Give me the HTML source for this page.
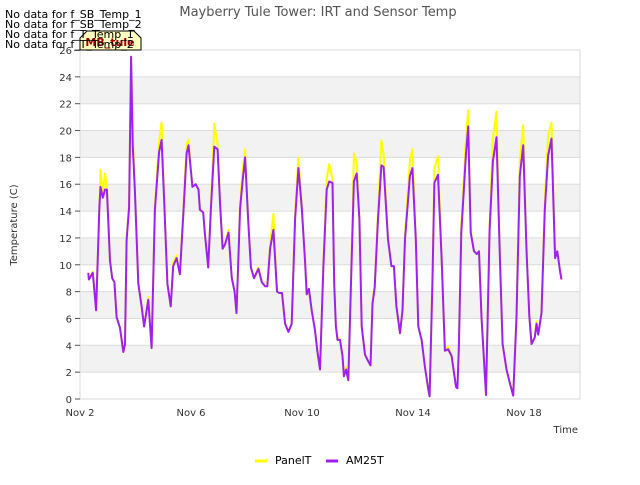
<!DOCTYPE html>
<html><head><meta charset="utf-8"><style>
body{margin:0;background:#fff;}
svg text{font-family:"DejaVu Sans","Liberation Sans",sans-serif;}
</style></head><body>
<svg id="chart" width="640" height="480" xmlns="http://www.w3.org/2000/svg">
<g id="bands"></g>
<g id="grid"></g>
<rect x="80" y="50" width="500" height="349" fill="none" stroke="#d8d8d8"/>
<g id="yaxis"></g>
<g id="xaxis"></g>
<g id="series"></g>
<text x="318" y="16" text-anchor="middle" font-size="13" fill="#555">Mayberry Tule Tower: IRT and Sensor Temp</text>
<text transform="translate(17,225) rotate(-90)" text-anchor="middle" font-size="10" fill="#333">Temperature (C)</text>
<text x="578" y="433" text-anchor="end" font-size="10" fill="#333">Time</text>
<g>
<path d="M80,38 L87,31 L134,31 L141,38 L141,50 L80,50 Z" fill="#ffffc0" stroke="#000" stroke-width="1"/>
<text x="110" y="46" text-anchor="middle" font-size="11" font-weight="bold" fill="#a00000">MB_tule</text>
</g>
<g font-size="11" fill="#000">
<text x="5" y="18">No data for f_SB_Temp_1</text>
<text x="5" y="28">No data for f_SB_Temp_2</text>
<text x="5" y="38">No data for f_T_Temp_1</text>
<text x="5" y="48">No data for f_T_Temp_2</text>
</g>
<g>
<g><line x1="255" y1="461" x2="267" y2="461" stroke="#ffff00" stroke-width="3"/><text x="275" y="464" font-size="11" fill="#000">PanelT</text></g>
<g><line x1="326" y1="461" x2="338" y2="461" stroke="#a020f0" stroke-width="3"/><text x="346" y="464" font-size="11" fill="#000">AM25T</text></g>
</g>
</svg>
<script>
const days=[0.30,0.32,0.46,0.58,0.70,0.74,0.82,0.90,0.97,1.08,1.16,1.24,1.32,1.44,1.56,1.62,1.68,1.77,1.84,1.90,1.98,2.10,2.22,2.31,2.46,2.58,2.70,2.85,2.94,3.03,3.15,3.27,3.36,3.48,3.60,3.72,3.84,3.91,4.05,4.17,4.27,4.32,4.44,4.50,4.62,4.72,4.84,4.96,5.05,5.14,5.22,5.35,5.47,5.57,5.64,5.77,5.85,5.95,6.07,6.16,6.27,6.43,6.55,6.67,6.75,6.85,6.97,7.10,7.19,7.28,7.39,7.51,7.63,7.75,7.87,7.99,8.11,8.17,8.25,8.35,8.47,8.55,8.65,8.77,8.89,8.98,9.10,9.16,9.22,9.28,9.37,9.46,9.51,9.59,9.67,9.79,9.87,9.97,10.07,10.15,10.27,10.39,10.47,10.54,10.62,10.74,10.86,10.94,11.10,11.22,11.31,11.40,11.53,11.62,11.71,11.89,11.98,12.10,12.19,12.31,12.43,12.55,12.60,12.70,12.77,12.90,13.03,13.15,13.27,13.39,13.55,13.60,13.65,13.74,13.91,13.99,14.08,14.20,14.30,14.38,14.47,14.63,14.76,14.88,15.01,15.13,15.23,15.37,15.49,15.61,15.73,15.85,15.97,16.09,16.19,16.27,16.39,16.45,16.51,16.63,16.75,16.87,16.99,17.12,17.20,17.30,17.35];
const am25t=[9.4,8.9,9.4,6.6,14.3,15.8,15.0,15.6,15.6,10.3,9.0,8.7,6.1,5.3,3.5,4.1,11.8,14.3,25.5,19.0,15.5,8.6,6.9,5.4,7.4,3.8,14.1,18.4,19.3,14.9,8.6,6.9,9.9,10.5,9.3,13.6,18.3,18.9,15.8,16.0,15.6,14.1,13.9,12.3,9.8,14.3,18.8,18.6,14.5,11.2,11.5,12.4,9.0,8.0,6.4,14.2,16.0,18.0,13.0,9.8,9.0,9.7,8.7,8.4,8.4,11.2,12.6,8.0,7.9,7.9,5.6,5.0,5.6,13.4,17.2,14.3,10.2,7.8,8.2,6.6,5.1,3.6,2.2,9.9,15.6,16.2,16.1,8.6,5.4,4.4,4.4,3.2,1.7,2.2,1.4,10.5,16.2,16.8,13.4,5.4,3.3,2.8,2.5,7.1,8.3,13.4,17.4,17.3,11.9,9.9,9.9,6.9,4.9,6.6,11.9,16.6,17.2,11.9,5.4,4.4,2.4,0.7,0.2,8.6,16.1,16.7,10.5,3.6,3.7,3.2,0.9,0.8,3.7,12.4,18.3,20.3,12.4,11.0,10.8,11.0,6.1,0.3,12.6,17.7,19.5,10.5,4.1,2.2,1.2,0.25,6.1,16.6,18.9,11.1,6.2,4.1,4.6,5.6,4.8,6.4,14.1,18.1,19.4,10.5,11.0,9.5,8.9];
const panelT=[9.4,8.9,9.5,6.7,14.6,17.1,15.3,16.8,15.8,10.3,9.0,8.7,6.1,5.3,3.5,4.1,12.0,14.6,25.5,20.0,15.7,8.6,6.9,5.4,7.6,3.8,14.5,19.2,20.6,15.2,8.6,6.9,10.2,10.7,9.3,14.0,19.0,19.3,15.9,16.0,15.6,14.1,13.9,12.3,9.8,14.6,20.5,19.0,14.6,11.2,11.5,12.6,9.0,8.0,6.4,14.6,16.8,18.6,13.2,9.8,9.0,9.8,8.7,8.4,8.4,11.5,13.8,8.0,7.9,7.9,5.6,5.0,5.6,13.8,18.0,14.6,10.2,7.8,8.2,6.6,5.1,3.6,2.2,10.2,16.4,17.5,16.4,8.6,5.4,4.6,4.4,3.2,1.7,2.4,1.4,11.0,18.3,17.6,13.6,5.4,3.3,2.8,2.5,7.3,8.5,14.0,19.3,18.2,12.0,9.9,9.9,6.9,4.9,6.8,12.3,17.8,18.6,12.0,5.4,4.4,2.4,0.7,0.2,8.9,17.2,18.1,10.7,3.6,3.9,3.2,0.9,0.8,3.9,13.0,19.5,21.5,12.6,11.0,10.8,11.0,6.1,0.3,13.0,19.5,21.4,10.6,4.1,2.2,1.2,0.25,6.3,17.8,20.4,11.2,6.2,4.1,4.6,5.8,4.8,6.5,14.8,19.6,20.6,10.6,11.0,9.5,8.9];
const yTicks=[0,2,4,6,8,10,12,14,16,18,20,22,24,26];
const xTickDays=[0,4,8,12,16];
const xTickLabels=["Nov 2","Nov 6","Nov 10","Nov 14","Nov 18"];
const NS="http://www.w3.org/2000/svg";
function X(d){return 80+d*27.75;}
function Y(v){return 399-v*(349/26);}
function mk(tag,attrs,parent){const e=document.createElementNS(NS,tag);for(const k in attrs)e.setAttribute(k,attrs[k]);parent.appendChild(e);return e;}
const bands=document.getElementById('bands'),grid=document.getElementById('grid'),ya=document.getElementById('yaxis'),xa=document.getElementById('xaxis'),ser=document.getElementById('series');
for(let i=0;i<yTicks.length-1;i++){
  if(i%2===1){const r=mk('rect',{x:80,y:Y(yTicks[i+1]),width:500,height:Y(yTicks[i])-Y(yTicks[i+1]),fill:'#f2f2f2'},bands);
  
  }
}
yTicks.forEach(t=>{
  const l=mk('line',{x1:80,x2:580,y1:Y(t),y2:Y(t),stroke:'#dcdcdc','stroke-width':1},grid);
  
  
  const tk=mk('line',{x1:75,x2:80,y1:Y(t),y2:Y(t),stroke:'#555'},ya);
  
  
  const tx=mk('text',{x:72,y:Y(t)+4,'text-anchor':'end','font-size':10,fill:'#333'},ya);
  tx.textContent=t;
  
  
});
xTickDays.forEach((d,i)=>{
  const tx=mk('text',{x:X(d),y:416,'text-anchor':'middle','font-size':10,fill:'#333'},xa);
  tx.textContent=xTickLabels[i];
  
  
});
function line(vals,color,name){
  const pts=days.map((d,i)=>X(d).toFixed(1)+','+Y(vals[i]).toFixed(1)).join(' ');
  const p=mk('polyline',{points:pts,fill:'none',stroke:color,'stroke-width':2,'stroke-linejoin':'round'},ser);
  
  
}
line(panelT,'#ffff00','panelt-line');
line(am25t,'#a020f0','am25t-line');
</script>
</body></html>
